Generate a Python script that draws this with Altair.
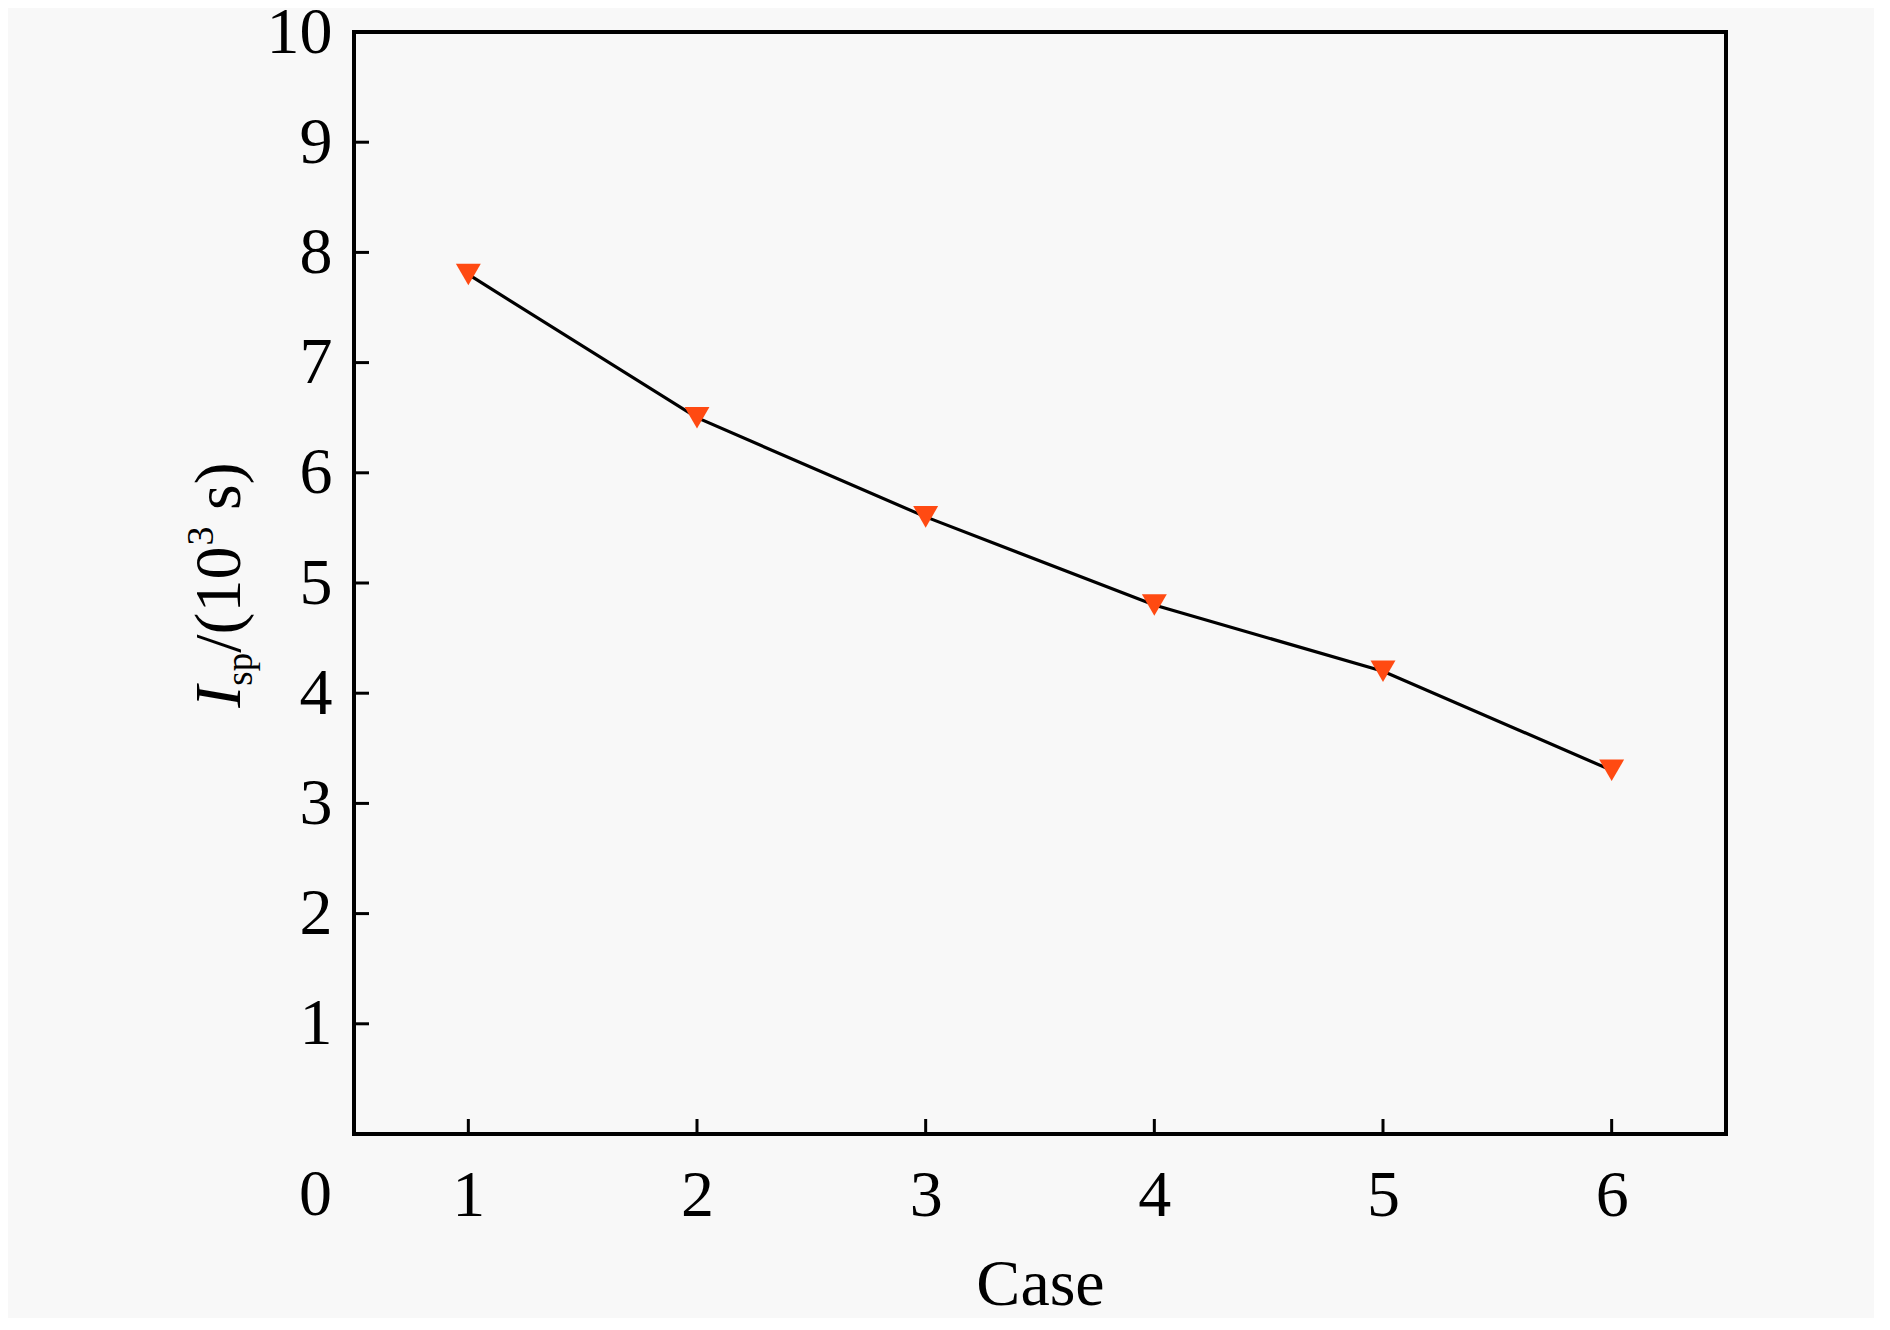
import altair as alt
import pandas as pd

# ---- data ----
cases = [1, 2, 3, 4, 5, 6]
isp = [7.8, 6.5, 5.6, 4.8, 4.2, 3.3]
x_ticks = [1, 2, 3, 4, 5, 6]
y_ticks = [1, 2, 3, 4, 5, 6, 7, 8, 9, 10]

W, H = 1372, 1102
FONT = "Liberation Serif"
FS = 66
TICK = 15

df = pd.DataFrame({"case": cases, "isp": isp})
dfx = pd.DataFrame({"v": x_ticks})
dfy = pd.DataFrame({"v": y_ticks})

xscale = alt.Scale(domain=[0.5, 6.5], nice=False, zero=False)
yscale = alt.Scale(domain=[0, 10], nice=False)

xaxis = alt.Axis(values=x_ticks, title="Case", ticks=False, tickSize=0, domain=False, grid=False,
                 labelFont=FONT, labelFontSize=FS, labelColor="black", labelPadding=29,
                 titleFont=FONT, titleFontSize=FS, titleFontWeight="normal", titleColor="black",
                 titlePadding=24, labelFlush=False)
yaxis = alt.Axis(values=y_ticks, title=None, ticks=False, tickSize=0, domain=False, grid=False,
                 labelFont=FONT, labelFontSize=FS, labelColor="black", labelPadding=22,
                 labelFlush=False)

line = alt.Chart(df).mark_line(color="black", strokeWidth=3.2).encode(
    x=alt.X("case:Q", scale=xscale, axis=xaxis),
    y=alt.Y("isp:Q", scale=yscale, axis=yaxis),
)
pts = alt.Chart(df).mark_point(shape="triangle-down", filled=True, fill="#FF4A12",
                               opacity=1, size=620).encode(
    x=alt.X("case:Q", scale=xscale, axis=xaxis),
    y=alt.Y("isp:Q", scale=yscale, axis=yaxis),
)
yt = alt.Chart(dfy).mark_rule(color="black", strokeWidth=3).encode(
    y=alt.Y("v:Q", scale=yscale, axis=yaxis),
    x=alt.value(0), x2=alt.value(TICK),
)
xt = alt.Chart(dfx).mark_rule(color="black", strokeWidth=3).encode(
    x=alt.X("v:Q", scale=xscale, axis=xaxis),
    y=alt.value(H - TICK), y2=alt.value(H),
)
zero = alt.Chart(pd.DataFrame({"t": ["0"]})).mark_text(
    font=FONT, fontSize=FS, color="black", align="right", baseline="top"
).encode(text="t:N", x=alt.value(-22), y=alt.value(H + 29))

# ---- rotated y-axis title: I_sp/(10^3 s) ----
SUB, SUP = 37, 38
pieces = [
    # text, size, style, baseline shift, lead gap, advance
    ("I", FS, "italic", 0, 0, 0.333 * FS),
    ("sp", SUB, "normal", 12, 0, 0.889 * SUB),
    ("/(10", FS, "normal", 0, 0, 1.611 * FS),
    ("3", SUP, "normal", -27, 1, 0.5 * SUP),
    ("s)", FS, "normal", 0, 0.25 * FS, 0.722 * FS),
]
total = sum(p[4] + p[5] for p in pieces)
base_x = -114
ystart = H / 2 + 2 + total / 2
title_layers = []
for txt, size, style, dx, gap, adv in pieces:
    ystart -= gap
    title_layers.append(
        alt.Chart(pd.DataFrame({"t": [txt]})).mark_text(
            font=FONT, fontSize=size, fontStyle=style, color="black",
            align="left", baseline="alphabetic", angle=270
        ).encode(text="t:N", x=alt.value(base_x + dx), y=alt.value(ystart))
    )
    ystart -= adv

chart = alt.layer(line, pts, yt, xt, zero, *title_layers).properties(
    width=W, height=H,
    background="#F8F8F8",
    padding={"left": 346, "top": 24, "right": 148, "bottom": 184},
    autosize=alt.AutoSizeParams(type="none"),
).configure_view(stroke="black", strokeWidth=4)

chart.save("out.html", embed_options={"renderer": "svg", "actions": False})
